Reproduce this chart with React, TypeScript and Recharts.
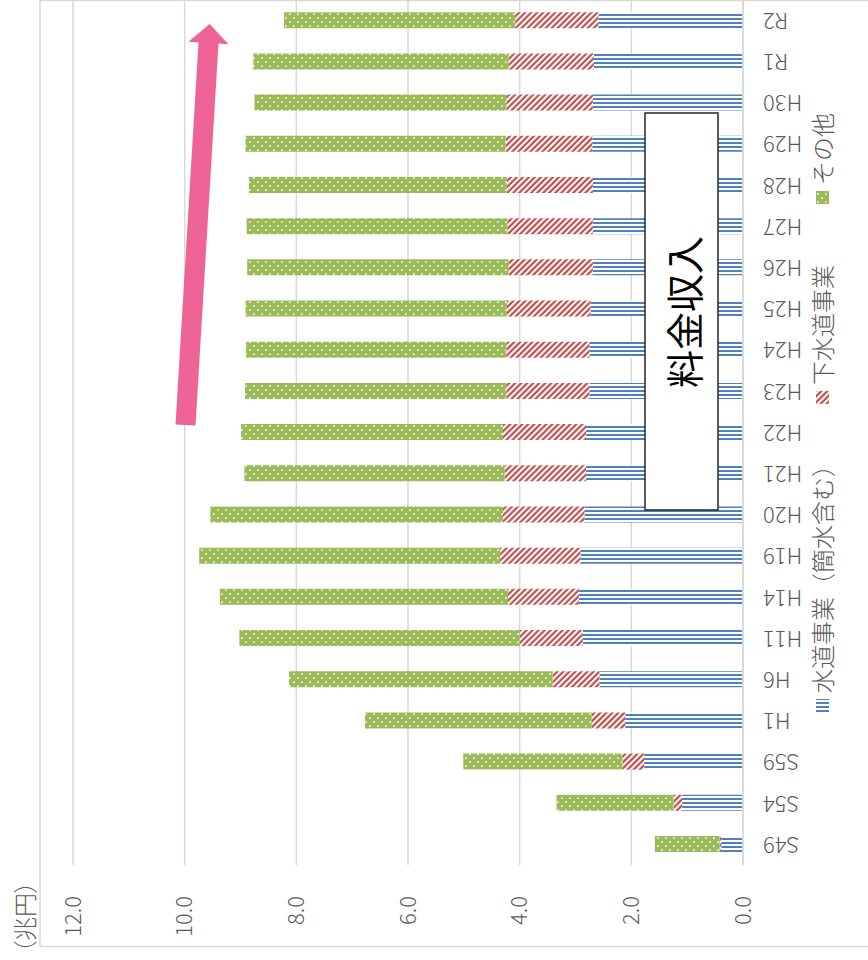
import React from 'react';
import { BarChart, Bar, XAxis, YAxis, CartesianGrid, Legend } from 'recharts';

const categories = ['S49', 'S54', 'S59', 'H1', 'H6', 'H11', 'H14', 'H19', 'H20', 'H21', 'H22', 'H23', 'H24', 'H25', 'H26', 'H27', 'H28', 'H29', 'H30', 'R1', 'R2'];
const waterSupply = [0.39, 1.09, 1.77, 2.11, 2.57, 2.87, 2.94, 2.91, 2.84, 2.81, 2.81, 2.75, 2.75, 2.73, 2.69, 2.69, 2.69, 2.70, 2.69, 2.67, 2.59];
const sewerage = [0.03, 0.15, 0.39, 0.60, 0.84, 1.13, 1.27, 1.44, 1.46, 1.46, 1.49, 1.49, 1.49, 1.50, 1.51, 1.53, 1.54, 1.55, 1.55, 1.53, 1.49];
const others = [1.16, 2.10, 2.85, 4.06, 4.72, 5.02, 5.16, 5.39, 5.24, 4.66, 4.69, 4.68, 4.66, 4.68, 4.68, 4.67, 4.62, 4.66, 4.51, 4.57, 4.14];
const valueTicks = [0, 2, 4, 6, 8, 10, 12];
const seriesNames = ['水道事業（簡水含む）', '下水道事業', 'その他'];
const seriesKeys = ['water', 'sewer', 'other'];
const patternIds = ['pBlue', 'pRed', 'pGreen'];
const unitLabel = '（兆円）';
const annotationText = '料金収入';

const data = categories.map((name, i) => ({
  name,
  water: waterSupply[i],
  sewer: sewerage[i],
  other: others[i],
}));

const FONT = '"Noto Sans CJK JP", "Noto Sans", sans-serif';
const TEXT = '#595959';
const GRID = '#d9d9d9';
const LIGHT = 300;

// chart drawn in its original (upright) orientation, then rotated -90deg
const W = 961;
const H = 868;
const legendLefts = [248, 556, 756];

const CatTick = (props: any) => {
  const { x, y, payload } = props;
  return (
    <text
      x={x}
      y={y}
      transform={`rotate(-90 ${x} ${y})`}
      textAnchor="end"
      dy="0.35em"
      fontSize={22}
      fontWeight={LIGHT}
      fill={TEXT}
      fontFamily={FONT}
    >
      {payload.value}
    </text>
  );
};

const renderLegend = () => (
  <div style={{ position: 'relative', width: W, height: 28 }}>
    {seriesNames.map((name, i) => (
      <div
        key={name}
        style={{
          position: 'absolute',
          left: legendLefts[i],
          top: 0,
          height: 28,
          display: 'flex',
          alignItems: 'center',
          whiteSpace: 'nowrap',
        }}
      >
        <svg width={13} height={13} style={{ marginRight: 6, display: 'block' }}>
          <rect width={13} height={13} fill={`url(#${patternIds[i]})`} />
        </svg>
        <span style={{ fontSize: 24, fontWeight: LIGHT, color: TEXT, fontFamily: FONT, lineHeight: '28px' }}>{name}</span>
      </div>
    ))}
  </div>
);

const arrowPolygon = (tail: [number, number], baseC: [number, number], tipLen: number, shaftW: number, headW: number) => {
  const dx = baseC[0] - tail[0];
  const dy = baseC[1] - tail[1];
  const len = Math.hypot(dx, dy);
  const ux = dx / len;
  const uy = dy / len;
  const nx = -uy;
  const ny = ux;
  const tip = [baseC[0] + ux * tipLen, baseC[1] + uy * tipLen];
  const pts = [
    [tail[0] + nx * shaftW / 2, tail[1] + ny * shaftW / 2],
    [baseC[0] + nx * shaftW / 2, baseC[1] + ny * shaftW / 2],
    [baseC[0] + nx * headW / 2, baseC[1] + ny * headW / 2],
    tip,
    [baseC[0] - nx * headW / 2, baseC[1] - ny * headW / 2],
    [baseC[0] - nx * shaftW / 2, baseC[1] - ny * shaftW / 2],
    [tail[0] - nx * shaftW / 2, tail[1] - ny * shaftW / 2],
  ];
  return pts.map((p) => `${p[0].toFixed(1)},${p[1].toFixed(1)}`).join(' ');
};

export default function App() {
  return (
    <div style={{ position: 'fixed', left: 0, top: 0, width: 868, height: 960, overflow: 'hidden', background: '#fff' }}>
      <svg width={0} height={0} style={{ position: 'absolute' }}>
        <defs>
          <pattern id="pBlue" patternUnits="userSpaceOnUse" width={4} height={4}>
            <rect width={4} height={4} fill="#ffffff" />
            <rect x={0} y={0} width={2} height={4} fill="#4F81BD" />
          </pattern>
          <pattern id="pRed" patternUnits="userSpaceOnUse" width={4.25} height={4.25} patternTransform="rotate(-45)">
            <rect width={4.25} height={4.25} fill="#ffffff" />
            <rect x={0} y={0} width={2.2} height={4.25} fill="#C0504D" />
          </pattern>
          <pattern id="pGreen" patternUnits="userSpaceOnUse" width={8} height={8}>
            <rect width={8} height={8} fill="#9BBB59" />
            <rect x={1} y={1} width={1.6} height={1.6} fill="#ffffff" />
            <rect x={5} y={5} width={1.6} height={1.6} fill="#ffffff" />
          </pattern>
        </defs>
      </svg>
      <div
        style={{
          position: 'absolute',
          left: 0,
          top: 0,
          width: W,
          height: H,
          transformOrigin: '0 0',
          transform: 'translate(0px, 960px) rotate(-90deg)',
          fontFamily: FONT,
        }}
      >
        <BarChart
          width={W}
          height={H}
          data={data}
          margin={{ top: 73, right: 1, bottom: 0, left: 0 }}
          barSize={16}
        >
          <CartesianGrid vertical={false} stroke={GRID} strokeWidth={1.5} />
          <XAxis
            dataKey="name"
            type="category"
            height={125}
            interval={0}
            tickLine={false}
            tickSize={0}
            tickMargin={20}
            axisLine={{ stroke: GRID, strokeWidth: 2 }}
            tick={<CatTick />}
          />
          <YAxis
            type="number"
            domain={[0, 12]}
            ticks={valueTicks}
            width={95}
            axisLine={false}
            tickLine={false}
            tickSize={0}
            tickMargin={31}
            tick={{ fontSize: 22, fontWeight: LIGHT, fill: TEXT, fontFamily: FONT }}
            tickFormatter={(v: number) => v.toFixed(1)}
          />
          <Legend
            layout="horizontal"
            verticalAlign="middle"
            align="center"
            wrapperStyle={{ top: 808, left: 0, width: W, height: 28 }}
            content={renderLegend}
          />
          {seriesKeys.map((k, i) => (
            <Bar
              key={k}
              dataKey={k}
              name={seriesNames[i]}
              stackId="a"
              fill={`url(#${patternIds[i]})`}
              isAnimationActive={false}
            />
          ))}
        </BarChart>
        <svg
          width={W}
          height={H}
          style={{ position: 'absolute', left: 0, top: 0, pointerEvents: 'none' }}
          fontFamily={FONT}
        >
          <line x1={13} y1={40} x2={W} y2={40} stroke={GRID} strokeWidth={1.5} />
          <line x1={13.5} y1={40} x2={13.5} y2={H} stroke={GRID} strokeWidth={1.5} />
          <line x1={959.5} y1={40} x2={959.5} y2={H} stroke={GRID} strokeWidth={1.5} />
          <text
            x={7}
            y={23}
            fontSize={24}
            fontWeight={LIGHT}
            fill={TEXT}
            dominantBaseline="central"
            style={{ fontFeatureSettings: '"palt"' }}
          >
            {unitLabel}
          </text>
          <polygon points={arrowPolygon([535, 185.5], [917, 208.5], 19, 20, 40)} fill="#EF6497" />
          <rect x={450} y={645} width={397} height={73} fill="#ffffff" stroke="#262626" strokeWidth={1.5} />
          <text
            x={648}
            y={682}
            fontSize={38}
            fontWeight={400}
            fill="#000000"
            textAnchor="middle"
            dominantBaseline="central"
          >
            {annotationText}
          </text>
        </svg>
      </div>
    </div>
  );
}
